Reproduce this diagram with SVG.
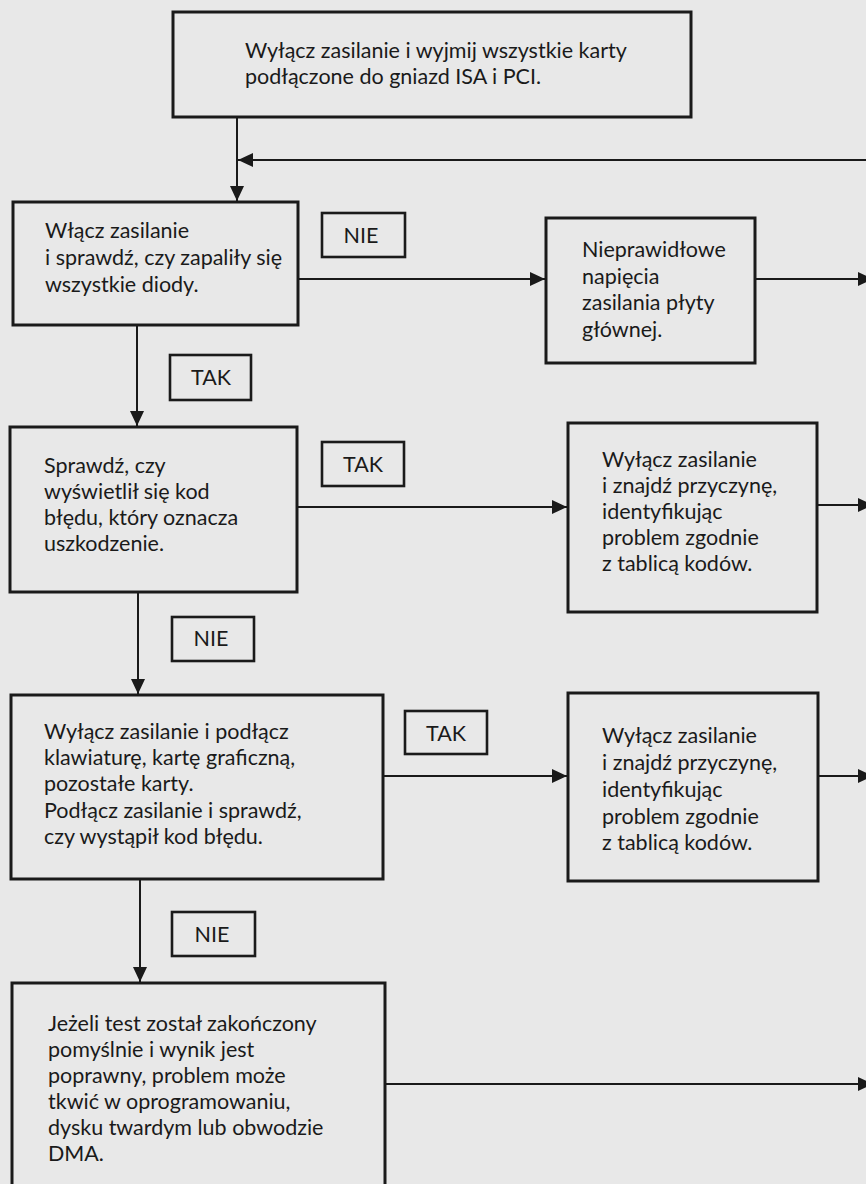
<svg xmlns="http://www.w3.org/2000/svg" width="866" height="1184" viewBox="0 0 866 1184">
<style>
.bg{fill:#e8e8e8}
.box{fill:none;stroke:#1a1a1a;stroke-width:3}
.lbl{fill:none;stroke:#1a1a1a;stroke-width:2.6}
.c{fill:none;stroke:#1a1a1a;stroke-width:2}
.t{font-family:Lato,"Open Sans","DejaVu Sans",sans-serif;font-size:21.5px;fill:#1a1a1a}
.m{text-anchor:middle}
</style>
<defs>
<marker id="ah" markerUnits="userSpaceOnUse" markerWidth="16" markerHeight="16" viewBox="0 0 16 16" refX="15" refY="8" orient="auto">
<path d="M0,1 L15,8 L0,15 Z" fill="#1a1a1a"/>
</marker>
</defs>
<rect class="bg" x="0" y="0" width="866" height="1184"/>
<g id="connectors">
<line class="c" x1="237" y1="117" x2="237" y2="201" marker-end="url(#ah)"/>
<line class="c" x1="866" y1="160" x2="238" y2="160" marker-end="url(#ah)"/>
<line class="c" x1="298" y1="279" x2="545" y2="279" marker-end="url(#ah)"/>
<line class="c" x1="755" y1="279" x2="873" y2="279" marker-end="url(#ah)"/>
<line class="c" x1="137" y1="325" x2="137" y2="426" marker-end="url(#ah)"/>
<line class="c" x1="297" y1="507" x2="567" y2="507" marker-end="url(#ah)"/>
<line class="c" x1="817" y1="505" x2="873" y2="505" marker-end="url(#ah)"/>
<line class="c" x1="138" y1="592" x2="138" y2="694" marker-end="url(#ah)"/>
<line class="c" x1="383" y1="776" x2="567" y2="776" marker-end="url(#ah)"/>
<line class="c" x1="818" y1="776" x2="873" y2="776" marker-end="url(#ah)"/>
<line class="c" x1="140" y1="879" x2="140" y2="982" marker-end="url(#ah)"/>
<line class="c" x1="385" y1="1084" x2="873" y2="1084" marker-end="url(#ah)"/>
</g>
<g id="labels">
<g id="lbl-nie1"><rect class="lbl" x="322" y="213" width="83" height="44"/><text class="t m" x="361" y="243">NIE</text></g>
<g id="lbl-tak1"><rect class="lbl" x="170" y="355" width="81" height="45"/><text class="t m" x="211" y="385">TAK</text></g>
<g id="lbl-tak2"><rect class="lbl" x="322" y="442" width="82" height="44"/><text class="t m" x="363" y="472">TAK</text></g>
<g id="lbl-nie2"><rect class="lbl" x="172" y="617" width="82" height="44"/><text class="t m" x="211" y="646">NIE</text></g>
<g id="lbl-tak3"><rect class="lbl" x="405" y="711" width="82" height="43"/><text class="t m" x="446" y="741">TAK</text></g>
<g id="lbl-nie3"><rect class="lbl" x="172" y="912" width="83" height="44"/><text class="t m" x="212" y="942">NIE</text></g>
</g>
<g id="n1">
<rect class="box" x="173" y="12" width="518" height="105"/>
<text class="t" x="245" y="58">Wyłącz zasilanie i wyjmij wszystkie karty</text>
<text class="t" x="245" y="84">podłączone do gniazd ISA i PCI.</text>
</g>
<g id="n2">
<rect class="box" x="13" y="202" width="285" height="123"/>
<text class="t" x="45" y="238">Włącz zasilanie</text>
<text class="t" x="45" y="265">i sprawdź, czy zapaliły się</text>
<text class="t" x="45" y="292">wszystkie diody.</text>
</g>
<g id="n3">
<rect class="box" x="546" y="218" width="209" height="145"/>
<text class="t" x="582" y="257">Nieprawidłowe</text>
<text class="t" x="582" y="283.5">napięcia</text>
<text class="t" x="582" y="310">zasilania płyty</text>
<text class="t" x="582" y="336.5">głównej.</text>
</g>
<g id="n4">
<rect class="box" x="10" y="427" width="287" height="165"/>
<text class="t" x="44" y="473">Sprawdź, czy</text>
<text class="t" x="44" y="499">wyświetlił się kod</text>
<text class="t" x="44" y="525">błędu, który oznacza</text>
<text class="t" x="44" y="551">uszkodzenie.</text>
</g>
<g id="n5">
<rect class="box" x="568" y="423" width="249" height="189"/>
<text class="t" x="602" y="467">Wyłącz zasilanie</text>
<text class="t" x="602" y="493">i znajdź przyczynę,</text>
<text class="t" x="602" y="519">identyfikując</text>
<text class="t" x="602" y="545">problem zgodnie</text>
<text class="t" x="602" y="571">z tablicą kodów.</text>
</g>
<g id="n6">
<rect class="box" x="11" y="695" width="372" height="184"/>
<text class="t" x="44" y="739">Wyłącz zasilanie i podłącz</text>
<text class="t" x="44" y="765">klawiaturę, kartę graficzną,</text>
<text class="t" x="44" y="791">pozostałe karty.</text>
<text class="t" x="44" y="818">Podłącz zasilanie i sprawdź,</text>
<text class="t" x="44" y="844">czy wystąpił kod błędu.</text>
</g>
<g id="n7">
<rect class="box" x="568" y="693" width="250" height="188"/>
<text class="t" x="602" y="743">Wyłącz zasilanie</text>
<text class="t" x="602" y="770">i znajdź przyczynę,</text>
<text class="t" x="602" y="797">identyfikując</text>
<text class="t" x="602" y="824">problem zgodnie</text>
<text class="t" x="602" y="850">z tablicą kodów.</text>
</g>
<g id="n8">
<rect class="box" x="12" y="983" width="373" height="220"/>
<text class="t" x="48" y="1031">Jeżeli test został zakończony</text>
<text class="t" x="48" y="1057">pomyślnie i wynik jest</text>
<text class="t" x="48" y="1083">poprawny, problem może</text>
<text class="t" x="48" y="1109">tkwić w oprogramowaniu,</text>
<text class="t" x="48" y="1135">dysku twardym lub obwodzie</text>
<text class="t" x="48" y="1161">DMA.</text>
</g>
</svg>
